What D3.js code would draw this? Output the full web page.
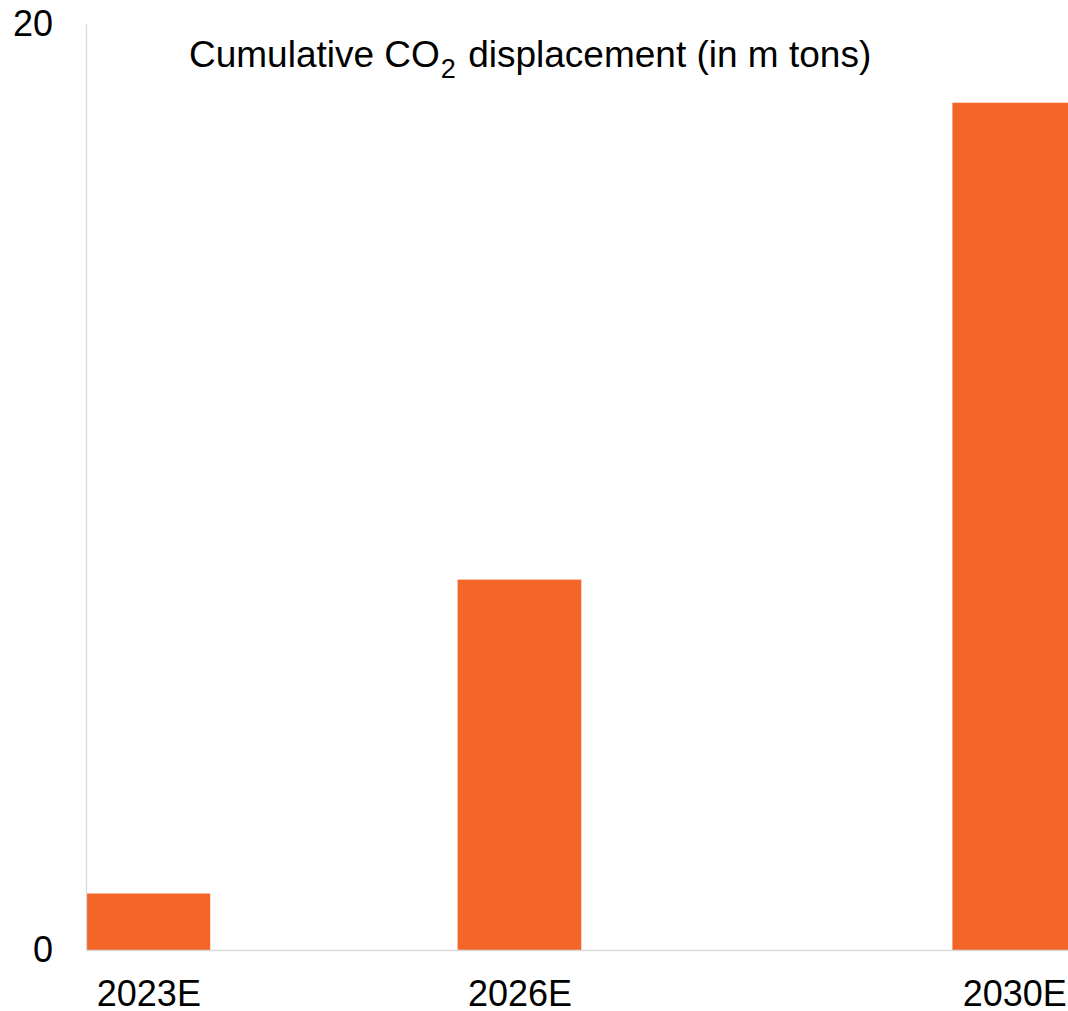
<!DOCTYPE html>
<html>
<head>
<meta charset="utf-8">
<script src="https://cdn.jsdelivr.net/npm/d3@7"></script>
<style>
  body { margin: 0; background: #fff; }
  svg { display: block; font-family: "Liberation Sans", Arial, sans-serif; }
</style>
</head>
<body>
<div id="chart"></div>
<script>
// data
var years = [2023, 2026, 2030];
var yearLabels = ["2023E", "2026E", "2030E"];
var co2Values = [1.22, 8.0, 18.3];
var yTicks = [0, 20];

var svgWidth = 1068;
var svgHeight = 1011;

var svg = d3.select("#chart")
  .append("svg")
  .attr("width", svgWidth)
  .attr("height", svgHeight);

// one year = one bar width, so spacing follows the calendar
var xScale = d3.scaleLinear()
  .domain([2023, 2031])
  .range([86.5, 86.5 + 8 * 123.7]);

var yScale = d3.scaleLinear()
  .domain([0, 20])
  .range([950, 24]);

// bars
svg.append("g")
  .selectAll("rect")
  .data(years)
  .enter()
  .append("rect")
  .attr("x", d => xScale(d))
  .attr("y", (d, i) => yScale(co2Values[i]))
  .attr("width", d => xScale(d + 1) - xScale(d))
  .attr("height", (d, i) => yScale(0) - yScale(co2Values[i]))
  .attr("fill", "#f36627");

// y axis
var yAxis = svg.append("g")
  .attr("transform", "translate(86,0)")
  .call(d3.axisLeft(yScale).tickValues(yTicks).tickSize(0).tickSizeOuter(0).tickPadding(33));
yAxis.select(".domain").attr("stroke", "#d9d9d9").attr("stroke-width", 1.3);
yAxis.selectAll("text").attr("font-size", 36).attr("fill", "#000").attr("font-family", "Liberation Sans, Arial, sans-serif");

// x axis (labels at bar centres)
var xAxis = svg.append("g")
  .attr("transform", "translate(0,950)")
  .call(d3.axisBottom(xScale)
    .tickValues(years.map(d => d + 0.5))
    .tickFormat((d, i) => yearLabels[i])
    .tickSize(0).tickSizeOuter(0).tickPadding(30));
xAxis.select(".domain").attr("stroke", "#d9d9d9").attr("stroke-width", 1.3);
xAxis.selectAll("text").attr("font-size", 36).attr("fill", "#000").attr("font-family", "Liberation Sans, Arial, sans-serif");

// title with subscript
var title = svg.append("text")
  .attr("x", 189)
  .attr("y", 67)
  .attr("font-size", 37)
  .attr("fill", "#000");
title.append("tspan").text("Cumulative CO");
title.append("tspan").attr("font-size", 27).attr("dx", 1).attr("dy", 11).text("2");
title.append("tspan").attr("dx", 2).attr("dy", -11).text(" displacement (in m tons)");
</script>
</body>
</html>
